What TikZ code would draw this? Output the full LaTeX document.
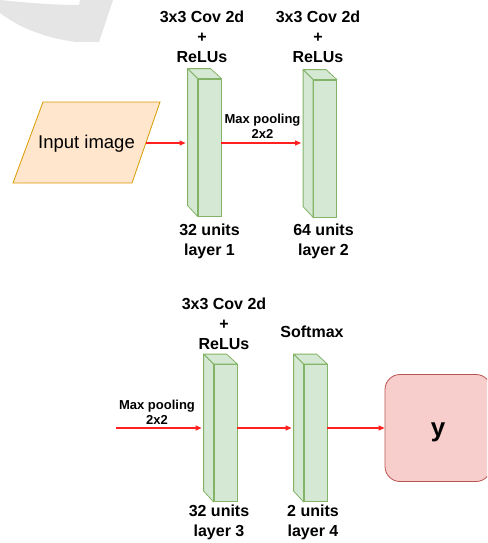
\documentclass[tikz,border=0pt]{standalone}
\usepackage{fontspec}
\setmainfont{Liberation Sans}
\usetikzlibrary{arrows.meta,calc}
\definecolor{cubefill}{HTML}{D5E8D4}
\definecolor{cubeline}{HTML}{82B366}
\definecolor{infill}{HTML}{FFE6CC}
\definecolor{inline}{HTML}{D79B00}
\definecolor{outfill}{HTML}{F8CECC}
\definecolor{outline}{HTML}{B85450}
\definecolor{flowred}{HTML}{FF2020}
\definecolor{markgray}{HTML}{E5E5E5}
\tikzset{
  layerbox/.style={draw=cubeline, fill=cubefill, line width=0.8pt,
    minimum width=23pt, minimum height=137pt, inner sep=0pt},
  flow/.style={draw=flowred, line width=1.1pt,
    -{Triangle[length=6pt,width=5pt]}},
  headlabel/.style={font=\fontsize{16}{20}\selectfont\bfseries, align=center, inner sep=0pt},
  poollabel/.style={font=\fontsize{13}{15}\selectfont\bfseries, align=center, inner sep=0pt},
  outbox/.style={draw=outline, fill=outfill, line width=0.8pt, rounded corners=15pt,
    minimum width=106pt, minimum height=107pt, inner sep=0pt},
  outtext/.style={inner sep=0pt, font=\fontsize{26}{30}\selectfont\bfseries},
}
% side and top faces of a layer block, behind its front face
\newcommand{\cubefaces}[1]{%
  \filldraw[draw=cubeline, fill=cubefill, line width=0.8pt, line join=round]
    (#1.north west) -- ++(-10,-10) -- ++(23,0) -- (#1.north east) -- cycle;
  \filldraw[draw=cubeline, fill=cubefill, line width=0.8pt, line join=round]
    (#1.north west) -- ++(-10,-10) -- ++(0,137) -- (#1.south west) -- cycle;
}
\begin{document}
\begin{tikzpicture}[x=1pt, y=-1pt]
\useasboundingbox (0,0) rectangle (487,543);
\clip (0,0) rectangle (487,543);

% faint background mark
\fill[markgray] (0,0) .. controls (30,3) and (55,5) .. (79,5) -- (80,0) -- (113,0)
  -- (99,42) -- (76,42) .. controls (45,38) and (20,28) .. (0,13) -- cycle;

% input
\coordinate (ic) at (86.5,142.5);
\filldraw[draw=inline, fill=infill, line width=0.8pt]
  ($(ic)+(-73.5,40.5)$) -- ($(ic)+(45.5,40.5)$) -- ($(ic)+(73.5,-40.5)$)
  -- ($(ic)+(-43.5,-40.5)$) -- cycle;
\node[minimum width=119pt, inner sep=0pt, font=\fontsize{18.5}{22}\selectfont] (inp) at ($(ic)+(0,1.5)$) {Input image};

% layer blocks
\node[layerbox] (l1) at (209.5,147.5) {};
\node[layerbox] (l2) at (325,148.5) {};
\node[layerbox] (l3) at (225.5,433) {};
\node[layerbox] (l4) at (315.5,433) {};
\cubefaces{l1}
\cubefaces{l2}
\cubefaces{l3}
\cubefaces{l4}

% output
\node[outbox] (yb) at (438,428) {};
\node[outtext] (yt) at ($(yb.center)+(0,4.5)$) {y};

% labels
\node[headlabel] (h1) at (202,37) {3x3 Cov 2d\\+\\ReLUs};
\node[headlabel] (h2) at (318,37) {3x3 Cov 2d\\+\\ReLUs};
\node[headlabel] (h3) at (224,323.5) {3x3 Cov 2d\\+\\ReLUs};
\node[headlabel] (h4) at (312,332) {Softmax};
\node[headlabel] (b1) at (209.5,241) {32 units\\layer 1};
\node[headlabel] (b2) at (323.5,241) {64 units\\layer 2};
\node[headlabel] (b3) at (219,522.5) {32 units\\layer 3};
\node[headlabel] (b4) at (313,522.5) {2 units\\layer 4};
\node[poollabel] (p1) at (262.5,126.5) {Max pooling\\2x2};
\node[poollabel] (p2) at (157,412.5) {Max pooling\\2x2};

% connectors
\coordinate (mpin) at (116,428);
\draw[flow] (inp.east |- 0,143) -- ([xshift=-12pt]l1.west |- 0,143);
\draw[flow] (l1.east |- 0,143) -- ([xshift=-12pt]l2.west |- 0,143);
\draw[flow] (mpin) -- ([xshift=-12pt]l3.west |- mpin);
\draw[flow] (l3.east |- yb.west) -- ([xshift=-12pt]l4.west |- yb.west);
\draw[flow] (l4.east |- yb.west) -- (yb.west);
\end{tikzpicture}
\end{document}
